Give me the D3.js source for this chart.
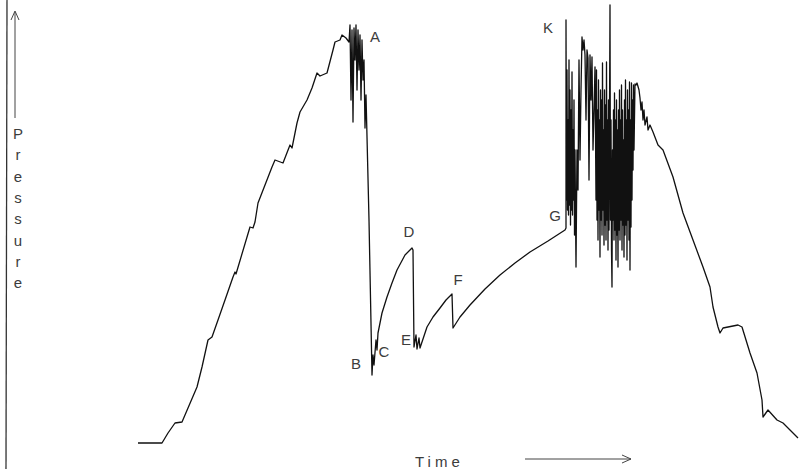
<!DOCTYPE html>
<html>
<head>
<meta charset="UTF-8">
<title>Pressure vs Time</title>
<script src="https://cdn.jsdelivr.net/npm/d3@7"></script>
<style type="text/css">
body, html {
    margin: 0;
    background: #fff;
}
.lbl {
    font: 15px "Liberation Sans", Arial, sans-serif;
    fill: #3c3c3c;
}
</style>
</head>
<body>
<div class="chart"></div>
<script type="text/javascript">
// trace: time (arbitrary units) and pressure (arbitrary units)
var time = [138,162,168,175,182,185,188,197,202,208,212,218,225,233,235,236,250,253,255,258,272,275,283,290,292,297,300,307,312,317,320,327,333,335,340,342,346,349,
  350,351,352,353,354,355,356,357,358,359,360,361,362,363,364,365,366,369,372,
  373,374,376,377,378,382,387,392,397,405,412,413,414,416,417,419,420,427,433,440,446,452,453,
  460,470,485,500,515,530,548,565,
  566,566,566.5,567,567.5,568,568.5,569,569.5,570,570.5,571,571.5,572,572.5,573,573.5,574,574.5,575,575.5,576,
  577,578,579,580,581,582,583,584,585,586,587,588,589,590,591,592,593,594,595,
  596,596.5,597,597.5,598,598.5,599,599.5,600,600.5,601,601.5,602,602.5,603,603.5,604,604.5,605,605.5,606,606.5,607,607.5,608,608.5,609,
  610,610.5,611,611.5,612,612.5,613,613.5,614,614.5,615,615.5,616,616.5,617,617.5,618,618.5,619,619.5,620,620.5,621,621.5,622,622.5,623,623.5,
  624,624.5,625,625.5,626,626.5,627,627.5,628,628.5,629,629.5,630,630.5,631,631.5,632,632.5,633,633.5,634,635,636,
  637,639,640,641,642,643,644,645,647,648,650,653,658,663,673,683,693,703,710,713,718,720,723,738,742,750,757,762,763,768,777,783,790,798];
var pressure = [7,7,17,27,28,35,42,63,83,110,113,130,150,173,178,176,223,222,228,247,283,290,287,305,302,327,338,350,362,377,374,377,400,408,410,415,412,408,
  425,350,420,328,422,390,425,360,420,380,415,350,410,370,390,322,355,230,75,
  95,85,110,100,117,137,153,167,180,195,202,200,103,115,101,112,102,123,133,142,150,156,122,
  133,145,161,175,187,198,209,220,
  222,430,250,380,240,330,235,390,245,360,225,340,240,378,235,320,250,350,215,300,240,183,
  300,260,390,290,360,413,400,410,395,330,400,392,270,395,350,393,300,340,383,
  250,380,230,340,210,370,240,330,193,360,230,350,215,387,240,320,205,360,225,345,210,388,230,330,200,350,220,
  445,230,330,200,163,300,230,340,210,357,220,330,190,350,215,320,183,340,220,360,210,330,230,365,200,340,225,310,
  193,350,215,370,225,330,190,360,230,340,210,368,180,330,223,367,250,350,280,365,300,366,365,
  367,360,352,340,348,330,340,325,333,320,325,318,305,300,273,237,210,183,163,143,123,117,122,125,123,97,77,50,33,40,30,27,20,12];

var labelText = ["A","B","C","D","E","F","G","K"];
var labelTime = [375,356,384,409,406,458,555,548];
var labelPressure = [408,81,93,213,105,165,229,417];

var W = 801, H = 469;

var x = d3.scaleLinear().domain([0, 800]).range([0, 800]),
    y = d3.scaleLinear().domain([0, 450]).range([450, 0]);

var svg = d3.select(".chart")
    .append("svg")
    .attr("width", W)
    .attr("height", H);

// left axis line
svg.append("line")
    .attr("x1", 7).attr("y1", 0)
    .attr("x2", 6).attr("y2", H)
    .attr("stroke", "#333")
    .attr("stroke-width", 1.3);

// pressure arrow
svg.append("line")
    .attr("x1", 15).attr("y1", 118)
    .attr("x2", 15).attr("y2", 12)
    .attr("stroke", "#444").attr("stroke-width", 1);
svg.append("path")
    .attr("d", "M11,20 L15,11 L19,20")
    .attr("fill", "none").attr("stroke", "#444").attr("stroke-width", 1);

var word = "Pressure".split("");
svg.selectAll(".pch")
    .data(word)
    .enter()
    .append("text")
    .attr("class", "lbl")
    .attr("x", 18)
    .attr("y", function (d, i) { return 139 + i * 21.3; })
    .attr("text-anchor", "middle")
    .text(function (d) { return d; });

// time label and arrow
svg.append("text")
    .attr("class", "lbl")
    .attr("x", 415)
    .attr("y", 467)
    .style("letter-spacing", "4px")
    .text("Time");
svg.append("line")
    .attr("x1", 525).attr("y1", 459)
    .attr("x2", 631).attr("y2", 459)
    .attr("stroke", "#444").attr("stroke-width", 1);
svg.append("path")
    .attr("d", "M622,455 L631,459 L622,463")
    .attr("fill", "none").attr("stroke", "#444").attr("stroke-width", 1);

var pts = time.map(function (t, i) { return [t, pressure[i]]; });

var line = d3.line()
    .x(function (d) { return x(d[0]); })
    .y(function (d) { return y(d[1]); });

svg.append("path")
    .datum(pts)
    .attr("d", line)
    .attr("fill", "none")
    .attr("stroke", "#111")
    .attr("stroke-width", 1.3)
    .attr("stroke-linejoin", "round");

svg.selectAll(".pt")
    .data(labelText)
    .enter()
    .append("text")
    .attr("class", "lbl")
    .attr("x", function (d, i) { return x(labelTime[i]); })
    .attr("y", function (d, i) { return y(labelPressure[i]); })
    .attr("text-anchor", "middle")
    .text(function (d) { return d; });
</script>
</body>
</html>
